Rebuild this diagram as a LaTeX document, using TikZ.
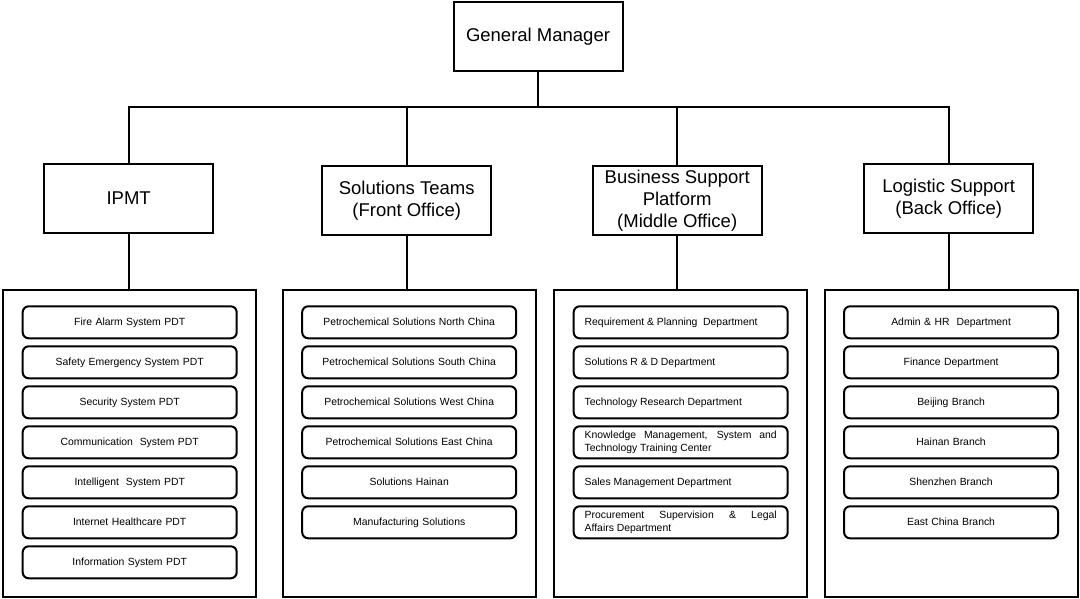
\documentclass[tikz,border=0pt]{standalone}
\usepackage{fontspec}
\setmainfont{Liberation Sans}
\usetikzlibrary{positioning}
\tikzstyle{head}=[rectangle, draw=black, line width=2pt, outer sep=0pt, align=center, text=black, minimum width=169pt, minimum height=69pt, font=\fontsize{18.5}{22}\selectfont]
\tikzstyle{group}=[rectangle, draw=black, line width=2pt, outer sep=0pt, minimum width=253pt, minimum height=306.5pt]
\tikzstyle{deptbase}=[rectangle, rounded corners=6pt, draw=black, line width=2pt, outer sep=0pt, inner sep=0pt, align=center, text=black, text width=192pt, minimum width=214pt, minimum height=32pt, font=\fontsize{10.4}{12.5}\selectfont]
\tikzstyle{dept}=[deptbase, text height=7.6pt, text depth=2.2pt]
\tikzstyle{deptl}=[dept, align=justify]
\tikzstyle{deptw}=[deptbase, align=justify]
\tikzstyle{link}=[draw=black, line width=2pt]

\begin{document}
\begin{tikzpicture}[x=1pt, y=1pt, node distance=8pt]
        \useasboundingbox (0,0) rectangle (1080,-599);

        \node(gm)[head] at (538,-36.5) {General Manager};
        \coordinate[below=36pt of gm] (bus);
        \draw[link] (gm) -- (bus);

        \node(ipmt)[head] at (128.7,-198.4) {IPMT};
        \node(sol)[head, right=109pt of ipmt, yshift=-2pt] {Solutions Teams\\(Front Office)};
        \node(bsp)[head, right=101.5pt of sol] {Business Support\\Platform\\(Middle Office)};
        \node(log)[head, right=102.5pt of bsp, yshift=2pt] {Logistic Support\\(Back Office)};

        \draw[link] (bus) -| (ipmt.north);
        \draw[link] (bus) -| (sol.north);
        \draw[link] (bus) -| (bsp.north);
        \draw[link] (bus) -| (log.north);

        % IPMT
        \node(ipmt_box)[group, below=57.4pt of ipmt, xshift=1pt] {};
        \draw[link] (ipmt.south) -- (ipmt.south |- ipmt_box.north);
        \node(fire)[dept, below=16pt of ipmt_box.north] {Fire Alarm System PDT};
        \node(safety)[dept, below=of fire] {Safety Emergency System PDT};
        \node(security)[dept, below=of safety] {Security System PDT};
        \node(comm)[dept, below=of security] {Communication\ \ System PDT};
        \node(intel)[dept, below=of comm] {Intelligent\ \ System PDT};
        \node(health)[dept, below=of intel] {Internet Healthcare PDT};
        \node(info)[dept, below=of health] {Information System PDT};

        % Front office
        \node(sol_box)[group, below=55.4pt of sol, xshift=2.5pt] {};
        \draw[link] (sol.south) -- (sol.south |- sol_box.north);
        \node(north)[dept, below=16pt of sol_box.north] {Petrochemical Solutions North China};
        \node(south)[dept, below=of north] {Petrochemical Solutions South China};
        \node(west)[dept, below=of south] {Petrochemical Solutions West China};
        \node(east)[dept, below=of west] {Petrochemical Solutions East China};
        \node(hainan)[dept, below=of east] {Solutions Hainan};
        \node(manuf)[dept, below=of hainan] {Manufacturing Solutions};

        % Middle office
        \node(bsp_box)[group, below=55.4pt of bsp, xshift=3.5pt] {};
        \draw[link] (bsp.south) -- (bsp.south |- bsp_box.north);
        \node(plan)[deptl, below=16pt of bsp_box.north] {Requirement \& Planning\ \ Department};
        \node(rd)[deptl, below=of plan] {Solutions R \& D Department};
        \node(tech)[deptl, below=of rd] {Technology Research Department};
        \node(know)[deptw, below=of tech] {Knowledge Management, System and\linebreak Technology Training Center};
        \node(sales)[deptl, below=of know] {Sales Management Department};
        \node(proc)[deptw, below=of sales] {Procurement Supervision \& Legal\linebreak Affairs Department};

        % Back office
        \node(log_box)[group, below=57.4pt of log, xshift=2.4pt] {};
        \draw[link] (log.south) -- (log.south |- log_box.north);
        \node(hr)[dept, below=16pt of log_box.north] {Admin \& HR\ \ Department};
        \node(fin)[dept, below=of hr] {Finance Department};
        \node(beijing)[dept, below=of fin] {Beijing Branch};
        \node(hnb)[dept, below=of beijing] {Hainan Branch};
        \node(sz)[dept, below=of hnb] {Shenzhen Branch};
        \node(ecb)[dept, below=of sz] {East China Branch};
    \end{tikzpicture}
\end{document}
